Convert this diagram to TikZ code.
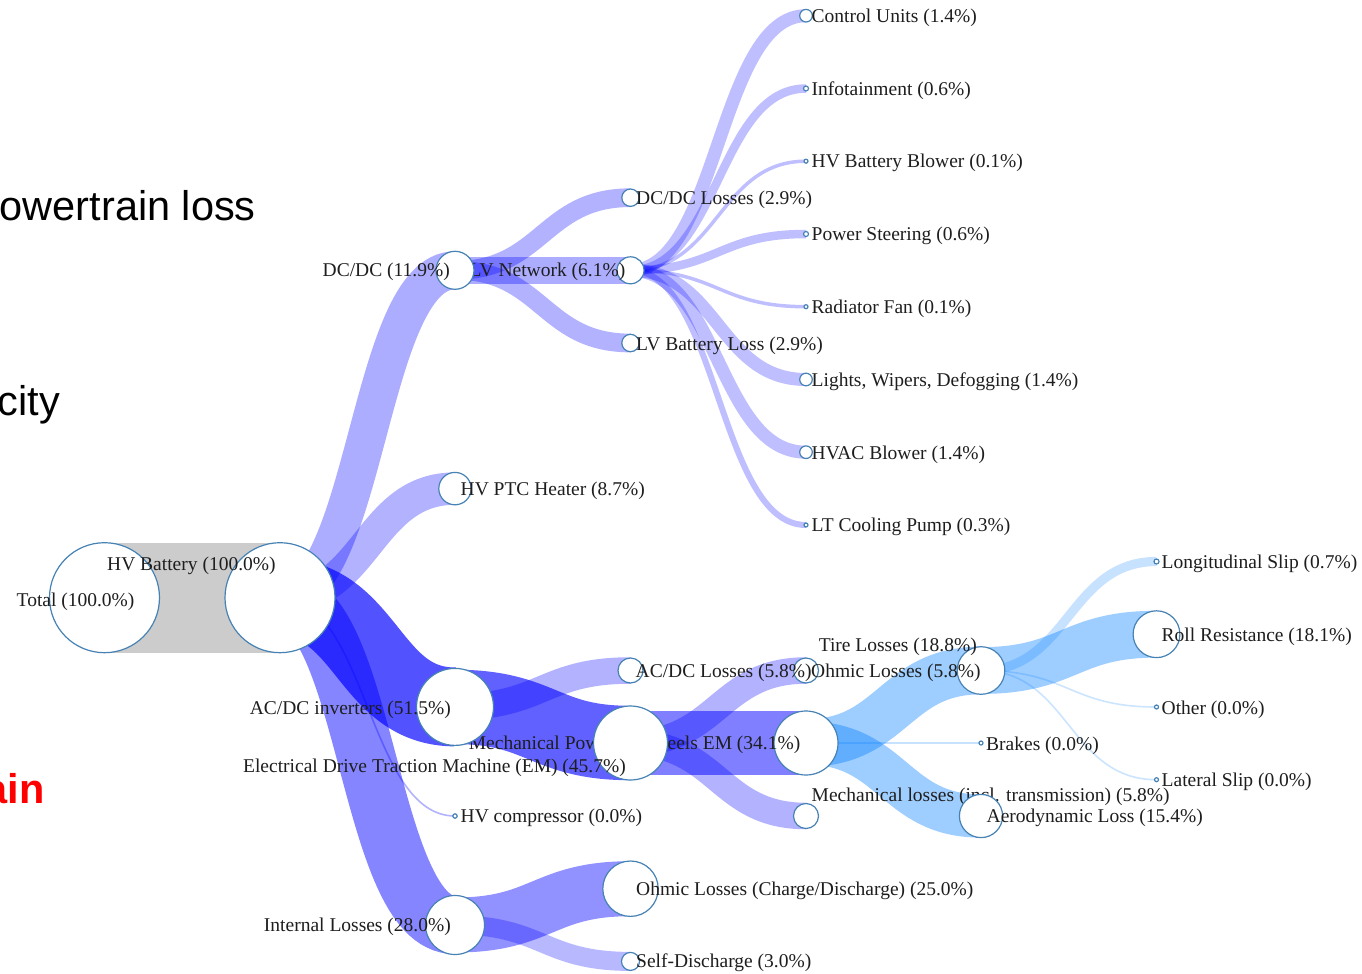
\documentclass[tikz,border=0pt]{standalone}
\usepackage{fontspec}
\setmainfont{Liberation Serif}
\newfontfamily\headsans{Liberation Sans}
\usetikzlibrary{calc}
\definecolor{flowblue}{RGB}{0,0,255}
\definecolor{flowsky}{RGB}{0,125,255}
\definecolor{flowgray}{RGB}{204,204,204}
\definecolor{ringblue}{RGB}{70,130,180}
\definecolor{labelink}{RGB}{30,30,30}
\definecolor{alertred}{RGB}{255,0,0}
\pgfdeclarelayer{flows}
\pgfsetlayers{flows,main}
% one tree link: cubic curve with horizontal tangents at both ends
\newcommand\flowlink[4]{%
  \draw[#3, line width=#4] let \p1=(#1.center), \p2=(#2.center),
    \p3=($(\p1)!0.5!(\p2)$) in (\p1) .. controls (\x3,\y1) and (\x3,\y2) .. (\p2);}
\begin{document}
\begin{tikzpicture}[x=1pt,y=-1pt,
  dot/.style={circle,draw=ringblue,fill=white,line width=1.2pt,inner sep=0pt,minimum size=2*#1},
  lbl/.style={inner sep=0pt,text=labelink,font=\fontsize{19.5}{22}\selectfont},
  lw/.style={lbl,anchor=base west},
  le/.style={lbl,anchor=base east},
  side/.style={inner sep=0pt,anchor=base east,font=\headsans\fontsize{41.5}{48}\selectfont},
  bl/.style={draw=flowblue,draw opacity=#1,line cap=butt},
  sk/.style={draw=flowsky,draw opacity=#1,line cap=butt},
  gr/.style={draw=flowgray,line cap=butt},
]
\useasboundingbox (0,0) rectangle (1362,974);
\clip (0,0) rectangle (1362,974);

% ---- node positions (circles) ----
\coordinate (p-tot) at (104.5,597.7);
\node[dot=55]   (tot)   at (104.5,597.7) {};
\node[dot=55]   (hvb)   at (280,597.7) {};
\node[lw] (totL) at (16.5,606) {Total (100.0\%)};
\node[lw] (hvbL) at (107,570) {HV Battery (100.0\%)};

\node[dot=13.5] (lvn)   at (630.5,270.3) {};
\node[le] (lvnL) at (625.5,276.7) {LV Network (6.1\%)};
\node[dot=19]   (dcdc)  at (455,270.3) {};
\node[le] (dcdcL) at (450,276.7) {DC/DC (11.9\%)};

\node[dot=32]   (mp)    at (806,743) {};
\node[le] (mpL) at (800.5,749.3) {Mechanical Power to Wheels EM (34.1\%)};
\node[dot=37]   (em)    at (630.5,743) {};
\node[le] (emL) at (626,772) {Electrical Drive Traction Machine (EM) (45.7\%)};

\node[dot=23.8] (tire)  at (981,670.5) {};
\node[dot=12.5] (ohm)   at (806,670.5) {};
\node[lw] (ohmL) at (811,677) {Ohmic Losses (5.8\%)};
\node[dot=12.5] (acl)   at (630.5,670.5) {};
\node[lw] (aclL) at (635.5,677) {AC/DC Losses (5.8\%)};
\node[le] (tireL) at (977,651.7) {Tire Losses (18.8\%)};

\node[dot=12.5] (mloss) at (806,816) {};
\node[lw] (mlossL) at (811.5,801.7) {Mechanical losses (incl. transmission) (5.8\%)};
\node[dot=21.6] (aero)  at (981,816) {};
\node[lw] (aeroL) at (986.5,822) {Aerodynamic Loss (15.4\%)};

\node[dot=16.2] (ptc)   at (455,488.6) {};
\node[dot=38.5] (inv)   at (455,706.9) {};
\node[dot=2.2]  (comp)  at (455,816) {};
\node[dot=29.5] (intl)  at (455,925) {};
\node[dot=8.7]  (dcl)   at (630.5,197.7) {};
\node[dot=8.7]  (lvb)   at (630.5,343) {};
\node[dot=27.7] (ohcd)  at (630.5,888.7) {};
\node[dot=9]    (self)  at (630.5,961.4) {};
\node[dot=6.3]  (ctrl)  at (806,15.7) {};
\node[dot=2.5]  (info)  at (806,88.5) {};
\node[dot=2]    (blow)  at (806,161.2) {};
\node[dot=2.5]  (steer) at (806,234) {};
\node[dot=2]    (rad)   at (806,306.7) {};
\node[dot=6.3]  (light) at (806,379.5) {};
\node[dot=6.3]  (hvac)  at (806,452.2) {};
\node[dot=2]    (lt)    at (806,525) {};
\node[dot=2]    (brk)   at (981,743) {};
\node[dot=2.5]  (lslip) at (1156.5,561.5) {};
\node[dot=23.4] (roll)  at (1156.5,634.2) {};
\node[dot=2]    (oth)   at (1156.5,707) {};
\node[dot=2]    (lat)   at (1156.5,779.7) {};

% ---- labels ----
\node[lw] (ptcL)  at (460.5,495.5) {HV PTC Heater (8.7\%)};
\node[le] (invL)  at (451,714) {AC/DC inverters (51.5\%)};
\node[lw] (compL) at (460.5,822.7) {HV compressor (0.0\%)};
\node[le] (intlL) at (451,931.7) {Internal Losses (28.0\%)};
\node[lw] (dclL)  at (636,204) {DC/DC Losses (2.9\%)};
\node[lw] (lvbL)  at (636,350) {LV Battery Loss (2.9\%)};
\node[lw] (ohcdL) at (636,895.5) {Ohmic Losses (Charge/Discharge) (25.0\%)};
\node[lw] (selfL) at (636,967.8) {Self-Discharge (3.0\%)};
\node[lw] (ctrlL)  at (811.5,22.5)  {Control Units (1.4\%)};
\node[lw] (infoL)  at (811.5,95.2)  {Infotainment (0.6\%)};
\node[lw] (blowL)  at (811.5,167.9) {HV Battery Blower (0.1\%)};
\node[lw] (steerL) at (811.5,240.7) {Power Steering (0.6\%)};
\node[lw] (radL)   at (811.5,313.4) {Radiator Fan (0.1\%)};
\node[lw] (lightL) at (811.5,386.2) {Lights, Wipers, Defogging (1.4\%)};
\node[lw] (hvacL)  at (811.5,459)   {HVAC Blower (1.4\%)};
\node[lw] (ltL)    at (811.5,531.7) {LT Cooling Pump (0.3\%)};
\node[lw] (brkL)   at (986,750)     {Brakes (0.0\%)};
\node[lw] (lslipL) at (1161.5,568)  {Longitudinal Slip (0.7\%)};
\node[lw] (rollL)  at (1161.5,641)  {Roll Resistance (18.1\%)};
\node[lw] (othL)   at (1161.5,714)  {Other (0.0\%)};
\node[lw] (latL)   at (1161.5,786.5){Lateral Slip (0.0\%)};

% ---- side notes at the left edge ----
\node[side] (noteA) at (256,220) {owertrain loss};
\node[side] (noteB) at (60,415) {city};
\node[side,text=alertred,font=\headsans\bfseries\fontsize{41.5}{48}\selectfont] (noteC) at (45,803) {ain};

% ---- flows ----
\begin{pgfonlayer}{flows}
\fill[white] (0,0) rectangle (1362,974);
\flowlink{tot}{hvb}{gr}{110}
\flowlink{hvb}{dcdc}{bl=0.32}{37.9}
\flowlink{hvb}{ptc}{bl=0.3}{32.4}
\flowlink{hvb}{inv}{bl=0.68}{78.9}
\flowlink{hvb}{comp}{bl=0.3}{1.6}
\flowlink{hvb}{intl}{bl=0.48}{58.2}
\flowlink{dcdc}{dcl}{bl=0.3}{18.7}
\flowlink{dcdc}{lvn}{bl=0.32}{27.2}
\flowlink{dcdc}{lvb}{bl=0.3}{18.7}
\flowlink{inv}{acl}{bl=0.3}{26.5}
\flowlink{inv}{em}{bl=0.62}{74.4}
\flowlink{intl}{ohcd}{bl=0.43}{55}
\flowlink{intl}{self}{bl=0.28}{19}
\flowlink{lvn}{ctrl}{bl=0.25}{13}
\flowlink{lvn}{info}{bl=0.25}{8.5}
\flowlink{lvn}{blow}{bl=0.25}{3.5}
\flowlink{lvn}{steer}{bl=0.25}{8.5}
\flowlink{lvn}{rad}{bl=0.25}{3.5}
\flowlink{lvn}{light}{bl=0.25}{13}
\flowlink{lvn}{hvac}{bl=0.25}{13}
\flowlink{lvn}{lt}{bl=0.25}{6}
\flowlink{em}{ohm}{bl=0.3}{26.5}
\flowlink{em}{mp}{bl=0.5}{64.2}
\flowlink{em}{mloss}{bl=0.3}{26.5}
\flowlink{mp}{tire}{sk=0.38}{47.7}
\flowlink{mp}{brk}{sk=0.22}{1.6}
\flowlink{mp}{aero}{sk=0.38}{43.2}
\flowlink{tire}{lslip}{sk=0.22}{9.2}
\flowlink{tire}{roll}{sk=0.38}{46.8}
\flowlink{tire}{oth}{sk=0.2}{1.6}
\flowlink{tire}{lat}{sk=0.2}{1.6}
\end{pgfonlayer}
\end{tikzpicture}
\end{document}
